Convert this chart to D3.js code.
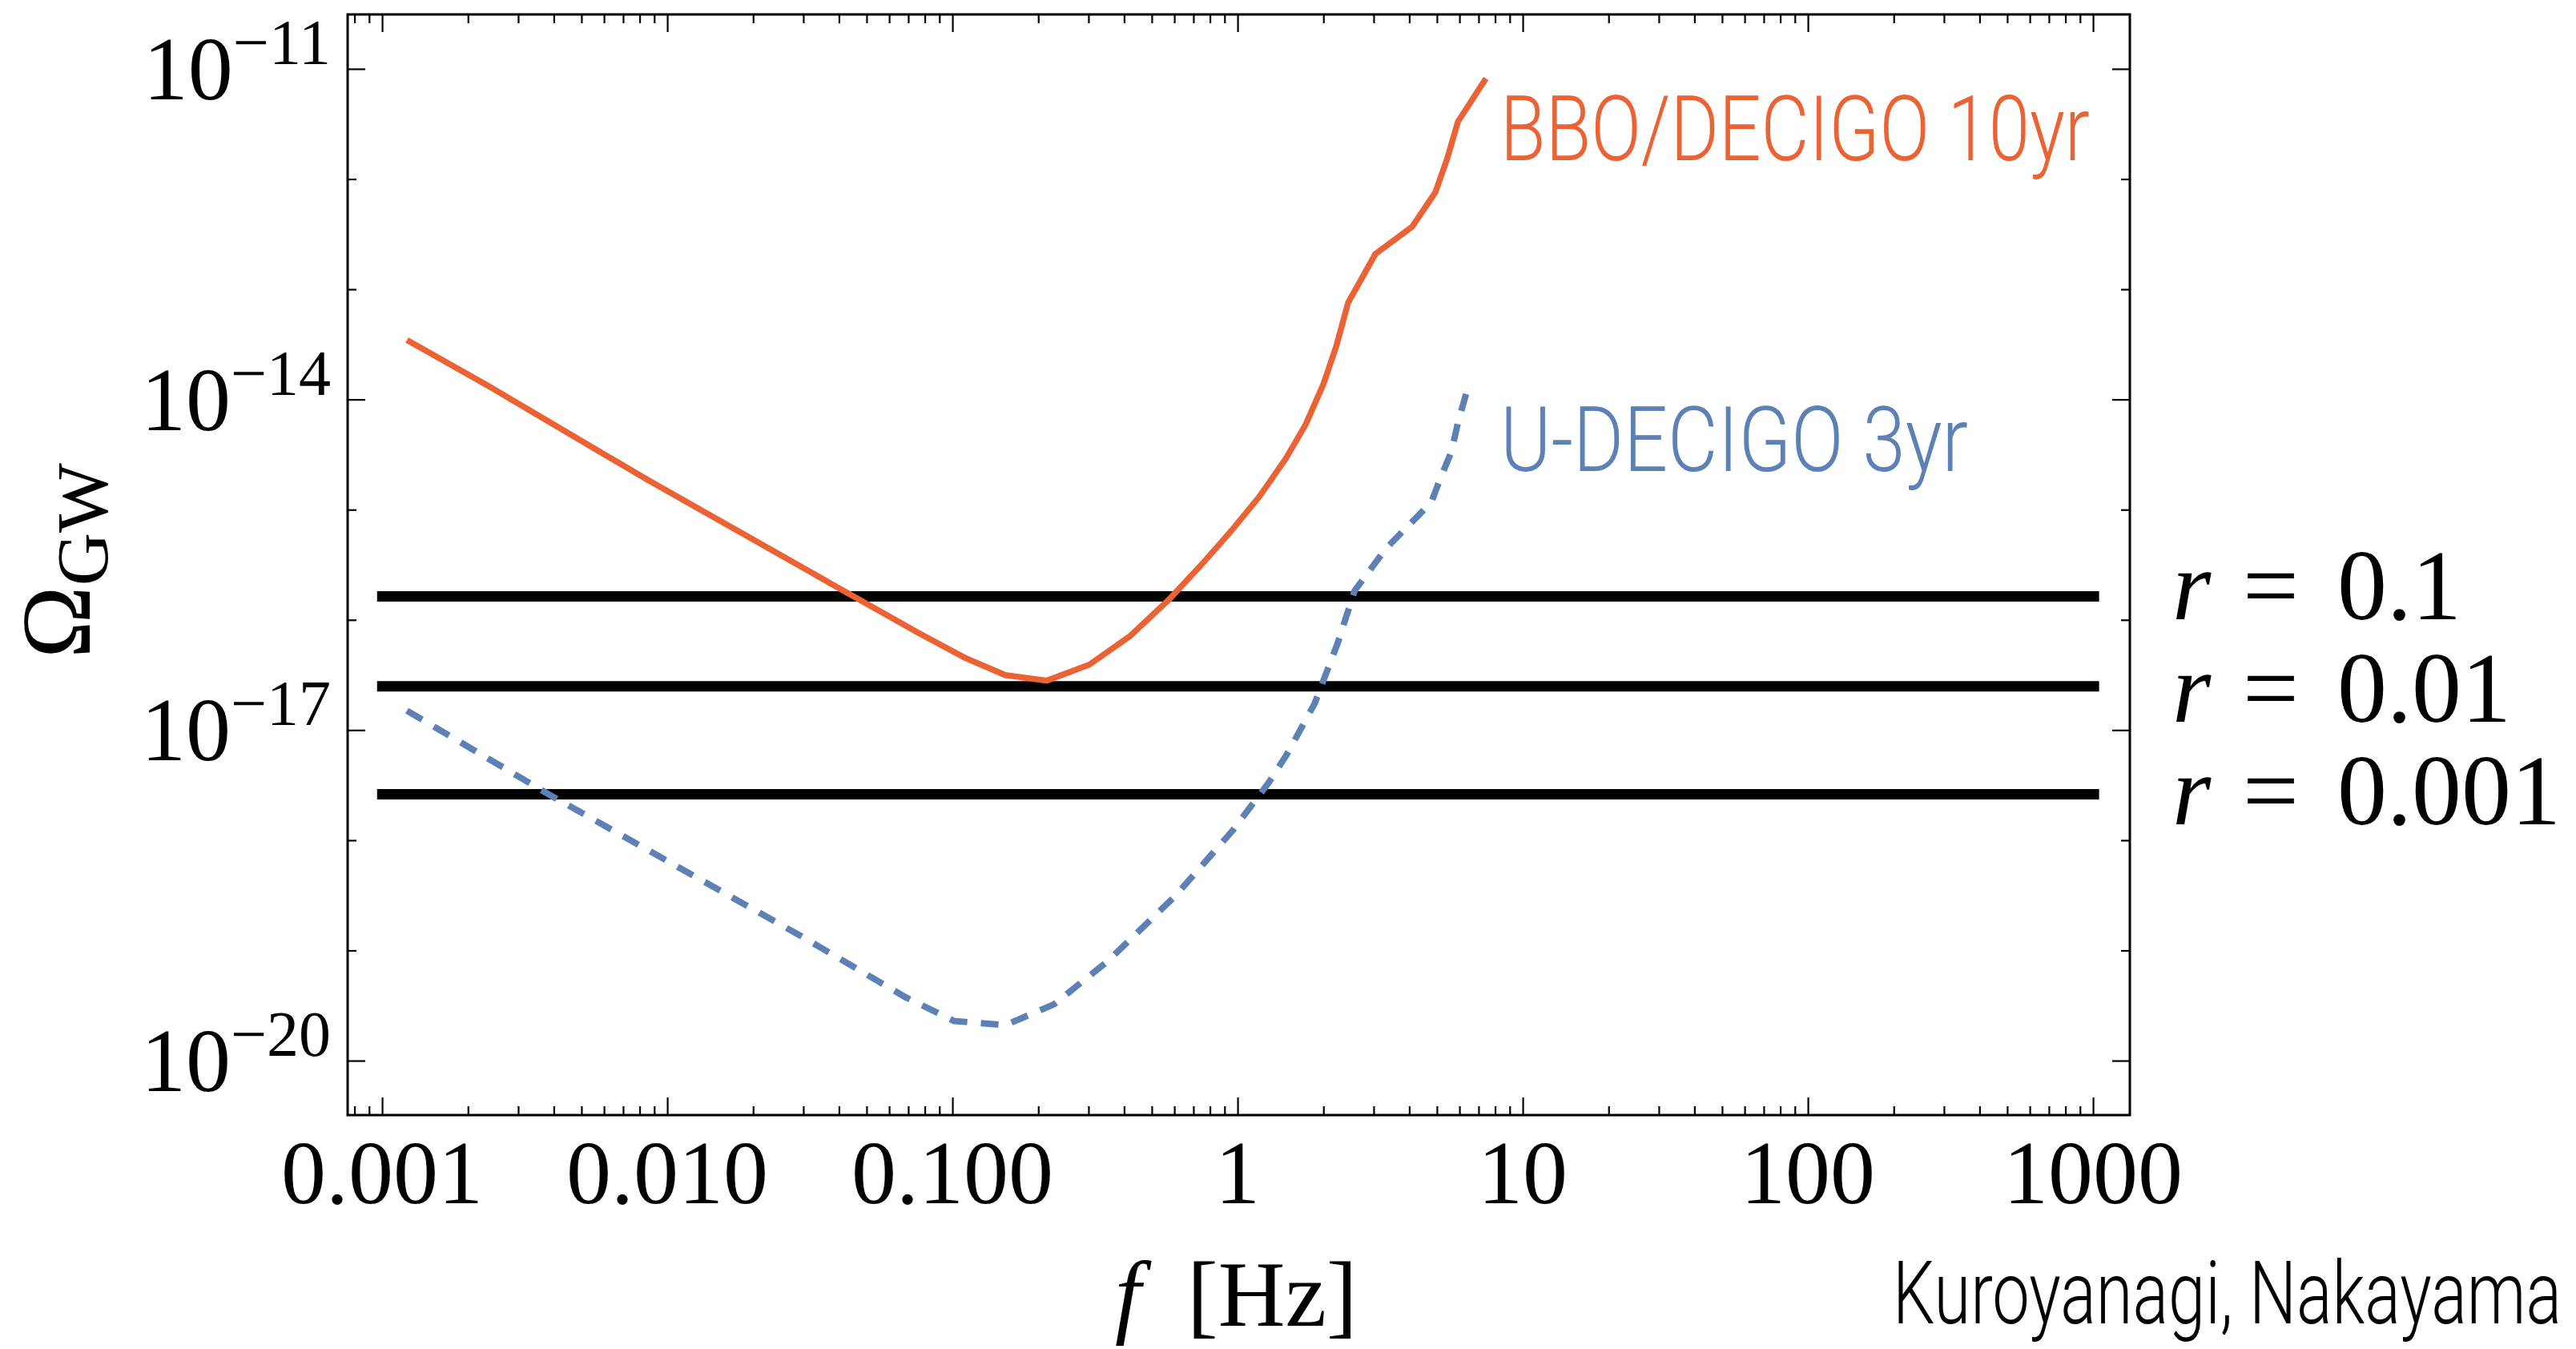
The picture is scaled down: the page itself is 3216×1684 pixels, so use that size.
<!DOCTYPE html>
<html>
<head>
<meta charset="utf-8">
<script src="https://cdn.jsdelivr.net/npm/d3@7/dist/d3.min.js"></script>
<style>
  html, body { margin: 0; padding: 0; background: #fff; }
  svg { display: block; }
</style>
</head>
<body>
<script>
// ---------- data ----------
const bboF = [0.001222, 0.002364, 0.00851, 0.03765, 0.0757, 0.1102, 0.1533, 0.2145, 0.302, 0.4203, 0.5733, 0.7473, 0.9495, 1.191, 1.474, 1.733, 1.998, 2.216, 2.441, 3.042, 4.097, 4.941, 5.445, 5.923, 7.428];
const bboOmega = [3.46e-14, 1.32e-14, 1.87e-15, 2.12e-16, 7.65e-17, 4.55e-17, 3.15e-17, 2.81e-17, 3.92e-17, 7.16e-17, 1.52e-16, 3.17e-16, 6.41e-16, 1.31e-15, 2.89e-15, 5.93e-15, 1.37e-14, 3.01e-14, 7.55e-14, 2.09e-13, 3.70e-13, 7.60e-13, 1.56e-12, 3.31e-12, 8.18e-12];

const udecigoF = [0.001222, 0.00384, 0.02944, 0.0683, 0.1013, 0.1533, 0.2274, 0.3507, 0.6000, 0.9618, 1.287, 1.483, 1.861, 2.244, 2.571, 3.31, 4.784, 5.105, 5.623, 5.923, 6.442];
const udecigoOmega = [1.50e-17, 2.61e-18, 1.35e-19, 3.78e-20, 2.29e-20, 2.10e-20, 3.25e-20, 8.02e-20, 3.06e-19, 1.23e-18, 3.35e-18, 5.91e-18, 1.73e-17, 6.15e-17, 1.83e-16, 4.43e-16, 1.17e-15, 1.84e-15, 3.36e-15, 6.14e-15, 1.32e-14];

const rLabels = ["0.1", "0.01", "0.001"];
const rOmega = [1.63e-16, 2.49e-17, 2.61e-18];
const rFRange = [0.00096, 1050];

const xMajorTicks = [0.001, 0.01, 0.1, 1, 10, 100, 1000];
const xTickLabels = ["0.001", "0.010", "0.100", "1", "10", "100", "1000"];
const yMajorTicks = [1e-11, 1e-14, 1e-17, 1e-20];
const yTickExponents = ["\u221211", "\u221214", "\u221217", "\u221220"];
const yMinorTicks = [1e-12, 1e-13, 1e-15, 1e-16, 1e-18, 1e-19];

const seriesNames = ["BBO/DECIGO 10yr", "U-DECIGO 3yr"];
const credit = "Kuroyanagi, Nakayama";

// ---------- layout ----------
const W = 3216, H = 1684;
const L = 434, R = 2659, T = 18, B = 1392;
const orange = "#EB6235", blue = "#5E81B5";
const serif = "'Liberation Serif', Tinos, 'Times New Roman', Times, serif";
const sans = "Roboto, 'Noto Sans', sans-serif";

const svg = d3.select("body").append("svg")
  .attr("width", W).attr("height", H)
  .attr("viewBox", `0 0 ${W} ${H}`);
svg.append("rect").attr("width", W).attr("height", H).attr("fill", "#fff");

const x = d3.scaleLog().domain([Math.pow(10, -3.121), Math.pow(10, 3.129)]).range([L, R]);
const y = d3.scaleLog().domain([Math.pow(10, -20.494), Math.pow(10, -10.506)]).range([B, T]);

// minor x ticks
const xMinorTicks = [];
for (let e = -4; e <= 2; e++) {
  for (let m = 2; m <= 9; m++) {
    const v = m * Math.pow(10, e);
    if (v >= x.domain()[0] && v <= x.domain()[1]) xMinorTicks.push(v);
  }
}

function drawAxis(axisGen, tx, ty) {
  const g = svg.append("g").attr("transform", `translate(${tx},${ty})`).call(axisGen);
  g.select(".domain").remove();
  g.selectAll(".tick line").attr("stroke", "#000").attr("stroke-width", 2.2);
  g.selectAll(".tick text").remove();
  return g;
}
drawAxis(d3.axisBottom(x).tickValues(xMajorTicks).tickSize(-22), 0, B);
drawAxis(d3.axisBottom(x).tickValues(xMinorTicks).tickSize(-11), 0, B);
drawAxis(d3.axisTop(x).tickValues(xMajorTicks).tickSize(-22), 0, T);
drawAxis(d3.axisTop(x).tickValues(xMinorTicks).tickSize(-11), 0, T);
drawAxis(d3.axisLeft(y).tickValues(yMajorTicks).tickSize(-22), L, 0);
drawAxis(d3.axisLeft(y).tickValues(yMinorTicks).tickSize(-11), L, 0);
drawAxis(d3.axisRight(y).tickValues(yMajorTicks).tickSize(-22), R, 0);
drawAxis(d3.axisRight(y).tickValues(yMinorTicks).tickSize(-11), R, 0);

// frame
svg.append("rect").attr("x", L).attr("y", T).attr("width", R - L).attr("height", B - T)
  .attr("fill", "none").attr("stroke", "#000").attr("stroke-width", 3);

// x tick labels
svg.append("g").selectAll("text").data(xMajorTicks).join("text")
  .attr("x", d => x(d)).attr("y", 1502)
  .attr("text-anchor", "middle")
  .attr("font-family", serif).attr("font-size", 112)
  .text((d, i) => xTickLabels[i]);

// y tick labels
const yl = svg.append("g").selectAll("text").data(yMajorTicks).join("text")
  .attr("x", 413).attr("y", d => y(d) + 38)
  .attr("text-anchor", "end")
  .attr("font-family", serif).attr("font-size", 112);
yl.append("tspan").text("10");
yl.append("tspan").attr("dy", -44).attr("font-size", 80).text((d, i) => yTickExponents[i]);

// axis labels
const xl = svg.append("text").attr("y", 1655).attr("font-family", serif).attr("font-size", 116);
xl.append("tspan").attr("x", 1392).attr("font-style", "italic").text("f");
xl.append("tspan").attr("x", 1482).text("[Hz]");

const ylab = svg.append("text").attr("transform", "translate(112,822) rotate(-90)")
  .attr("font-family", serif).attr("font-size", 122);
ylab.append("tspan").text("\u03A9");
ylab.append("tspan").attr("dy", 22).attr("font-size", 92).text("GW");

// r lines
const rg = svg.append("g");
rOmega.forEach((o, i) => {
  rg.append("line")
    .attr("x1", x(rFRange[0])).attr("x2", x(rFRange[1]))
    .attr("y1", y(o)).attr("y2", y(o))
    .attr("stroke", "#000").attr("stroke-width", 13);
});
const rLabelBase = [773, 901, 1029];
rLabels.forEach((lab, i) => {
  const t = svg.append("text").attr("y", rLabelBase[i])
    .attr("font-family", serif).attr("font-size", 124);
  t.append("tspan").attr("x", 2712).attr("font-style", "italic").text("r");
  t.append("tspan").attr("x", 2800).text("=");
  t.append("tspan").attr("x", 2918).text(lab);
});

// curves
const line = d3.line().x(d => x(d[0])).y(d => y(d[1]));
svg.append("path")
  .datum(bboF.map((f, i) => [f, bboOmega[i]]))
  .attr("d", line).attr("fill", "none")
  .attr("stroke", orange).attr("stroke-width", 7.5).attr("stroke-linejoin", "miter");
svg.append("path")
  .datum(udecigoF.map((f, i) => [f, udecigoOmega[i]]))
  .attr("d", line).attr("fill", "none")
  .attr("stroke", blue).attr("stroke-width", 8)
  .attr("stroke-dasharray", "22,17");

// annotations
svg.append("text").attr("x", 1873).attr("y", 200)
  .attr("font-family", sans).attr("font-size", 114).attr("font-weight", 300)
  .attr("fill", orange)
  .attr("textLength", 736).attr("lengthAdjust", "spacingAndGlyphs")
  .text(seriesNames[0]);
svg.append("text").attr("x", 1873).attr("y", 588)
  .attr("font-family", sans).attr("font-size", 114).attr("font-weight", 300)
  .attr("fill", blue)
  .attr("textLength", 584).attr("lengthAdjust", "spacingAndGlyphs")
  .text(seriesNames[1]);

svg.append("text").attr("transform", "translate(2363,1652) scale(1,1.36)")
  .attr("font-family", sans).attr("font-size", 80)
  .attr("font-weight", 300)
  .attr("fill", "#000")
  .attr("textLength", 835).attr("lengthAdjust", "spacingAndGlyphs")
  .text(credit);
</script>
</body>
</html>
